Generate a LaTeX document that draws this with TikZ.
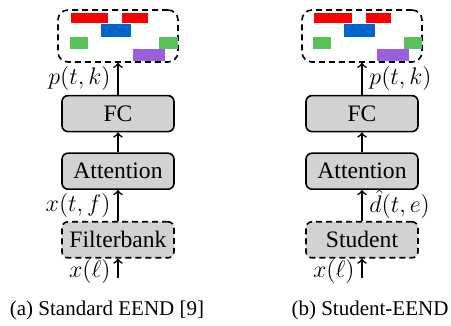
\documentclass[tikz,border=0pt]{standalone}
\usepackage{fontspec}
\setmainfont{Liberation Serif}
\usetikzlibrary{positioning}
\definecolor{barred}{RGB}{250,0,0}
\definecolor{barblue}{RGB}{0,102,204}
\definecolor{bargreen}{RGB}{90,192,90}
\definecolor{barpurple}{RGB}{155,95,220}

\begin{document}
\begin{tikzpicture}[x=0.5pt,y=-0.5pt,line width=0.8pt,every node/.style={font=\fontsize{11.8}{14}\selectfont}]
\tikzset{block/.style={draw,rounded corners=3pt,fill=gray!35,minimum width=56pt,minimum height=18pt,inner sep=0pt}}
\tikzset{dashblock/.style={block,dash pattern=on 3pt off 2pt}}
\tikzset{outbox/.style={draw,rounded corners=5pt,dash pattern=on 3pt off 2pt,minimum width=60pt,minimum height=26pt,inner sep=0pt}}
\tikzset{lbl/.style={inner ysep=1pt}}
\tikzset{caption/.style={font=\fontsize{10.5}{12}\selectfont}}
\useasboundingbox (0,0) rectangle (451,326);

% ---------- (a) standard ----------
\begin{scope}[shift={(118,0)}]
\node[outbox] (outA) at (0,36) {};
\fill[barred] (-47,13) rectangle (-10,23);
\fill[barred] (4,13) rectangle (30,23);
\fill[barblue] (-17,24) rectangle (13,37);
\fill[bargreen] (-48,37) rectangle (-30,49);
\fill[bargreen] (41,37) rectangle (60,49);
\fill[barpurple] (15,49) rectangle (47,61);

\node[block,below=16pt of outA] (fcA) {FC};
\node[block,below=10pt of fcA] (attA) {Attention};
\node[dashblock,below=15.5pt of attA] (fbA) {Filterbank};
\coordinate[below=9.5pt of fbA] (inA);

\draw[->] (fcA) -- node[lbl,left] {$p(t,k)$} (outA);
\draw[->] (attA) -- (fcA);
\draw[->] (fbA) -- node[lbl,left] {$x(t,f)$} (attA);
\draw[->] (inA) -- node[lbl,left,pos=0.3] {$x(\ell)$} (fbA);

\node[caption] (capA) at (-11,310) {(a) Standard EEND [9]};
\end{scope}

% ---------- (b) student ----------
\begin{scope}[shift={(362,0)}]
\node[outbox] (outB) at (0,36) {};
\fill[barred] (-48,13) rectangle (-10,23);
\fill[barred] (4,13) rectangle (29,23);
\fill[barblue] (-18,24) rectangle (13,37);
\fill[bargreen] (-49,37) rectangle (-31,49);
\fill[bargreen] (42,37) rectangle (60,49);
\fill[barpurple] (15,49) rectangle (47,61);

\node[block,below=16pt of outB] (fcB) {FC};
\node[block,below=10pt of fcB] (attB) {Attention};
\node[dashblock,below=15.5pt of attB] (stB) {Student};
\coordinate[below=9.5pt of stB] (inB);

\draw[->] (fcB) -- node[lbl,right] {$p(t,k)$} (outB);
\draw[->] (attB) -- (fcB);
\draw[->] (stB) -- node[lbl,right,pos=0.55] {$\hat{d}(t,e)$} (attB);
\draw[->] (inB) -- node[lbl,left,pos=0.3] {$x(\ell)$} (stB);

\node[caption] (capB) at (8,310) {(b) Student-EEND};
\end{scope}

\end{tikzpicture}
\end{document}
